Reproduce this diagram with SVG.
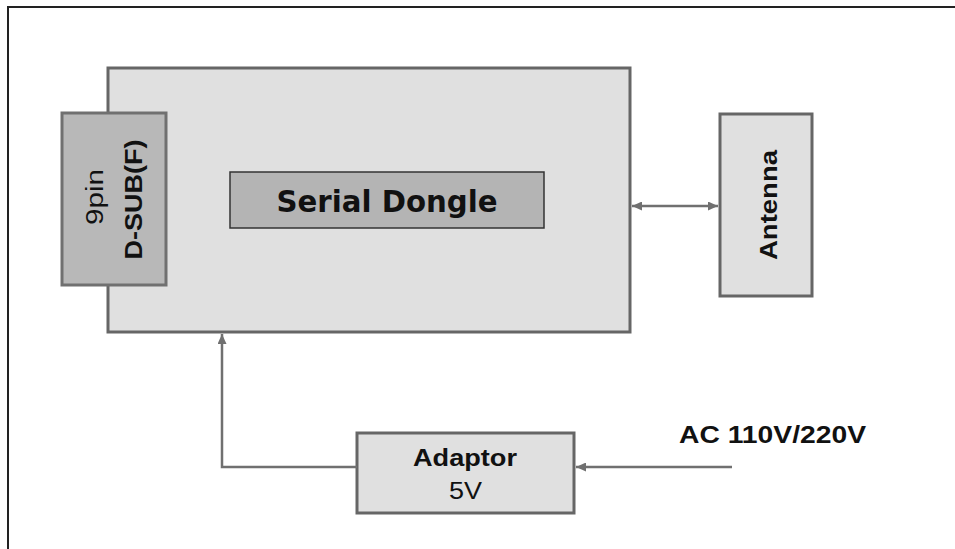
<svg xmlns="http://www.w3.org/2000/svg" width="955" height="549" viewBox="0 0 955 549">
  <style>
    .box { fill: #e0e0e0; stroke: #666666; stroke-width: 3; }
    .dark { fill: #b8b8b8; stroke: #707070; stroke-width: 3; }
    .inner { fill: #b4b4b4; stroke: #333333; stroke-width: 1.5; }
    .conn { fill: none; stroke: #707070; stroke-width: 2.5; }
    .lbl { font-family: "Liberation Sans", Arial, sans-serif; font-weight: bold; fill: #111111; text-anchor: middle; }
    .reg { font-family: "Liberation Sans", Arial, sans-serif; font-weight: normal; fill: #111111; text-anchor: middle; }
    .title { font-family: "DejaVu Sans", Verdana, sans-serif; font-weight: bold; fill: #111111; text-anchor: middle; }
  </style>
  <defs>
    <marker id="ah" markerUnits="userSpaceOnUse" markerWidth="10" markerHeight="9" refX="10" refY="4.5" orient="auto-start-reverse">
      <path d="M0,0 L10,4.5 L0,9 z" fill="#707070"/>
    </marker>
  </defs>
  <rect x="0" y="0" width="955" height="549" fill="#ffffff"/>
  <path d="M8,560 L8,7 L970,7" fill="none" stroke="#222222" stroke-width="2"/>

  <g id="main">
    <rect class="box" x="108" y="68" width="522" height="264"/>
  </g>
  <g id="serial-dongle">
    <rect class="inner" x="230" y="172" width="314" height="56"/>
    <text class="title" x="387" y="212" font-size="30" textLength="221" lengthAdjust="spacingAndGlyphs">Serial Dongle</text>
  </g>
  <g id="dsub">
    <rect class="dark" x="62" y="113" width="104" height="172"/>
    <text class="reg" x="103" y="197" font-size="23" transform="rotate(-90 103 197)" textLength="56" lengthAdjust="spacingAndGlyphs">9pin</text>
    <text class="lbl" x="142" y="199.5" font-size="24" transform="rotate(-90 142 199.5)" textLength="120" lengthAdjust="spacingAndGlyphs">D-SUB(F)</text>
  </g>
  <g id="antenna">
    <rect class="box" x="720" y="114" width="92" height="182"/>
    <text class="lbl" x="777" y="205" font-size="24" transform="rotate(-90 777 205)" textLength="110" lengthAdjust="spacingAndGlyphs">Antenna</text>
  </g>
  <g id="adaptor">
    <rect class="box" x="357" y="433" width="217" height="80"/>
    <text class="lbl" x="465" y="466" font-size="23" textLength="104" lengthAdjust="spacingAndGlyphs">Adaptor</text>
    <text class="reg" x="465.5" y="499" font-size="23" textLength="33" lengthAdjust="spacingAndGlyphs">5V</text>
  </g>
  <g id="ac-label">
    <text class="lbl" x="772.5" y="443" font-size="24" textLength="187" lengthAdjust="spacingAndGlyphs">AC 110V/220V</text>
  </g>

  <g id="connectors">
    <path class="conn" d="M632,206 L718,206" marker-start="url(#ah)" marker-end="url(#ah)"/>
    <path class="conn" d="M357,467 L222,467 L222,334" marker-end="url(#ah)"/>
    <path class="conn" d="M732,467 L576,467" marker-end="url(#ah)"/>
  </g>
</svg>
